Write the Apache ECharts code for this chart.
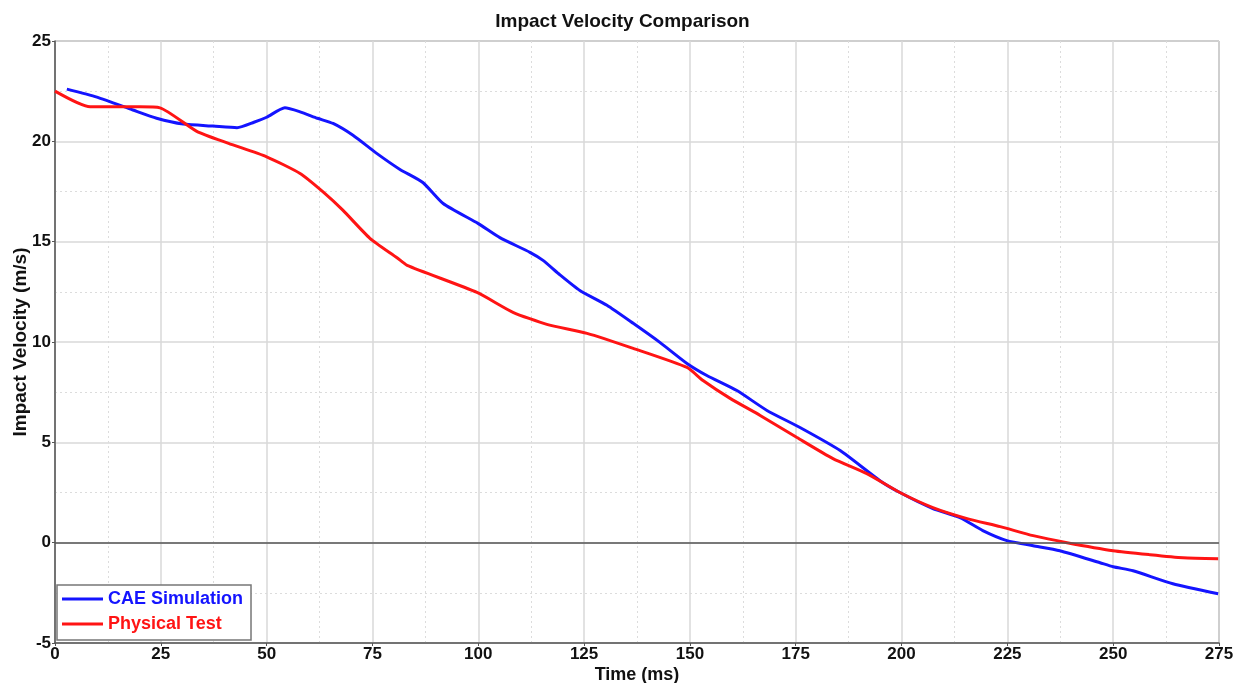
<!DOCTYPE html>
<html><head><meta charset="utf-8">
<script src="https://cdn.jsdelivr.net/npm/echarts@6/dist/echarts.min.js"></script>
<style>html,body{margin:0;padding:0;background:#fff}#c{width:1245px;height:683px}</style>
</head><body><div id="c"></div>
<script>
const title = 'Impact Velocity Comparison';
const xName = 'Time (ms)';
const yName = 'Impact Velocity (m/s)';
const seriesNames = ['CAE Simulation', 'Physical Test'];

const caeTime = [2.8, 9.9, 18.4, 24, 30.3, 37.4, 43, 47, 50, 54.3, 57.9, 62, 65.7, 70.4, 76, 81.5, 86.9, 91.7, 100, 105.1, 112.2, 115.3, 119, 124, 130.4, 136.6, 142.9, 149.3, 154, 161.1, 168.2, 176, 185.5, 194.9, 199.6, 207.4, 213.8, 219.2, 224.9, 231.1, 237.4, 246.9, 250, 254.7, 264.1, 274.8];
const caeVel  = [22.6, 22.2, 21.56, 21.15, 20.86, 20.76, 20.68, 20.95, 21.2, 21.67, 21.47, 21.15, 20.89, 20.3, 19.4, 18.6, 17.95, 16.9, 15.9, 15.2, 14.47, 14.07, 13.4, 12.57, 11.83, 10.93, 9.98, 8.93, 8.33, 7.58, 6.59, 5.74, 4.59, 3.09, 2.5, 1.7, 1.25, 0.6, 0.1, -0.15, -0.4, -1.0, -1.2, -1.4, -2.05, -2.55];

const testTime = [0, 8.3, 20, 24.8, 33.5, 41, 50, 57.9, 63.4, 68, 74.4, 80.8, 83.2, 99.7, 108.2, 116.2, 125.7, 136.6, 149.3, 153.1, 159.5, 166.6, 175.3, 183.8, 191.8, 199.6, 207.4, 215.5, 223.3, 231.1, 239.1, 250, 258.7, 266.5, 274.8];
const testVel  = [22.5, 21.72, 21.72, 21.67, 20.5, 19.9, 19.23, 18.4, 17.47, 16.57, 15.17, 14.2, 13.82, 12.47, 11.48, 10.88, 10.43, 9.68, 8.73, 8.08, 7.19, 6.34, 5.24, 4.19, 3.44, 2.5, 1.75, 1.2, 0.8, 0.35, 0.0, -0.4, -0.6, -0.75, -0.8];

const pair = (xs, ys) => xs.map((x, i) => [x, ys[i]]);
const FONT = '"Liberation Sans", Arial, sans-serif';

const chart = echarts.init(document.getElementById('c'), null, {renderer: 'canvas'});
chart.setOption({
  animation: false,
  backgroundColor: '#fff',
  title: {text: title, left: 'center', top: 7,
    textStyle: {fontFamily: FONT, fontSize: 19, fontWeight: 'bold', color: '#111'}},
  grid: {left: 55, right: 26, top: 41, bottom: 40, containLabel: false, outerBoundsMode: 'none',
    show: true, borderColor: '#666', borderWidth: 1, backgroundColor: '#fff'},
  legend: {
    left: 57, bottom: 43, orient: 'vertical', itemGap: 7,
    backgroundColor: '#fff', borderColor: '#777', borderWidth: 1.5, padding: [5, 8, 7, 5],
    itemWidth: 41, itemHeight: 3, icon: 'rect',
    data: [
      {name: seriesNames[0], textStyle: {color: '#1414ff'}},
      {name: seriesNames[1], textStyle: {color: '#ff1414'}}
    ],
    textStyle: {fontFamily: FONT, fontSize: 18, fontWeight: 'bold', padding: [0, 0, 0, 0]}
  },
  xAxis: {
    type: 'value', min: 0, max: 275, interval: 25,
    name: xName, nameLocation: 'middle', nameGap: 23, nameMoveOverlap: false,
    nameTextStyle: {fontFamily: FONT, fontSize: 18, fontWeight: 'bold', color: '#111'},
    axisLine: {onZero: false, lineStyle: {color: '#555', width: 1.5}},
    axisTick: {show: true, length: 3, lineStyle: {color: '#555'}},
    axisLabel: {fontFamily: FONT, fontSize: 17, fontWeight: 'bold', color: '#111', margin: 3},
    splitLine: {show: true, lineStyle: {color: '#d8d8d8', width: 1.5}},
    minorTick: {show: false, splitNumber: 2},
    minorSplitLine: {show: true, lineStyle: {color: '#dcdcdc', type: [2, 3], width: 1}}
  },
  yAxis: {
    type: 'value', min: -5, max: 25, interval: 5,
    name: yName, nameLocation: 'middle', nameGap: 25, nameRotate: 90, nameMoveOverlap: false,
    nameTextStyle: {fontFamily: FONT, fontSize: 19, fontWeight: 'bold', color: '#111'},
    axisLine: {show: true, lineStyle: {color: '#555', width: 1.5}},
    axisTick: {show: true, length: 3, lineStyle: {color: '#555'}},
    axisLabel: {fontFamily: FONT, fontSize: 17, fontWeight: 'bold', color: '#111', margin: 4},
    splitLine: {show: true, lineStyle: {color: '#d8d8d8', width: 1.5}},
    minorTick: {show: false, splitNumber: 2},
    minorSplitLine: {show: true, lineStyle: {color: '#dcdcdc', type: [2, 3], width: 1}}
  },
  series: [
    {
      name: seriesNames[0], type: 'line', data: pair(caeTime, caeVel),
      showSymbol: false, symbol: 'none', smooth: 0.2,
      lineStyle: {color: '#1414ff', width: 3}, itemStyle: {color: '#1414ff'},
      z: 3,
      markLine: {silent: true, symbol: 'none', label: {show: false},
        lineStyle: {color: '#555', width: 1.5, type: 'solid'}, data: [{yAxis: 0}]}
    },
    {
      name: seriesNames[1], type: 'line', data: pair(testTime, testVel),
      showSymbol: false, symbol: 'none', smooth: 0.2,
      lineStyle: {color: '#ff1414', width: 3}, itemStyle: {color: '#ff1414'},
      z: 4
    }
  ]
});
</script></body></html>
